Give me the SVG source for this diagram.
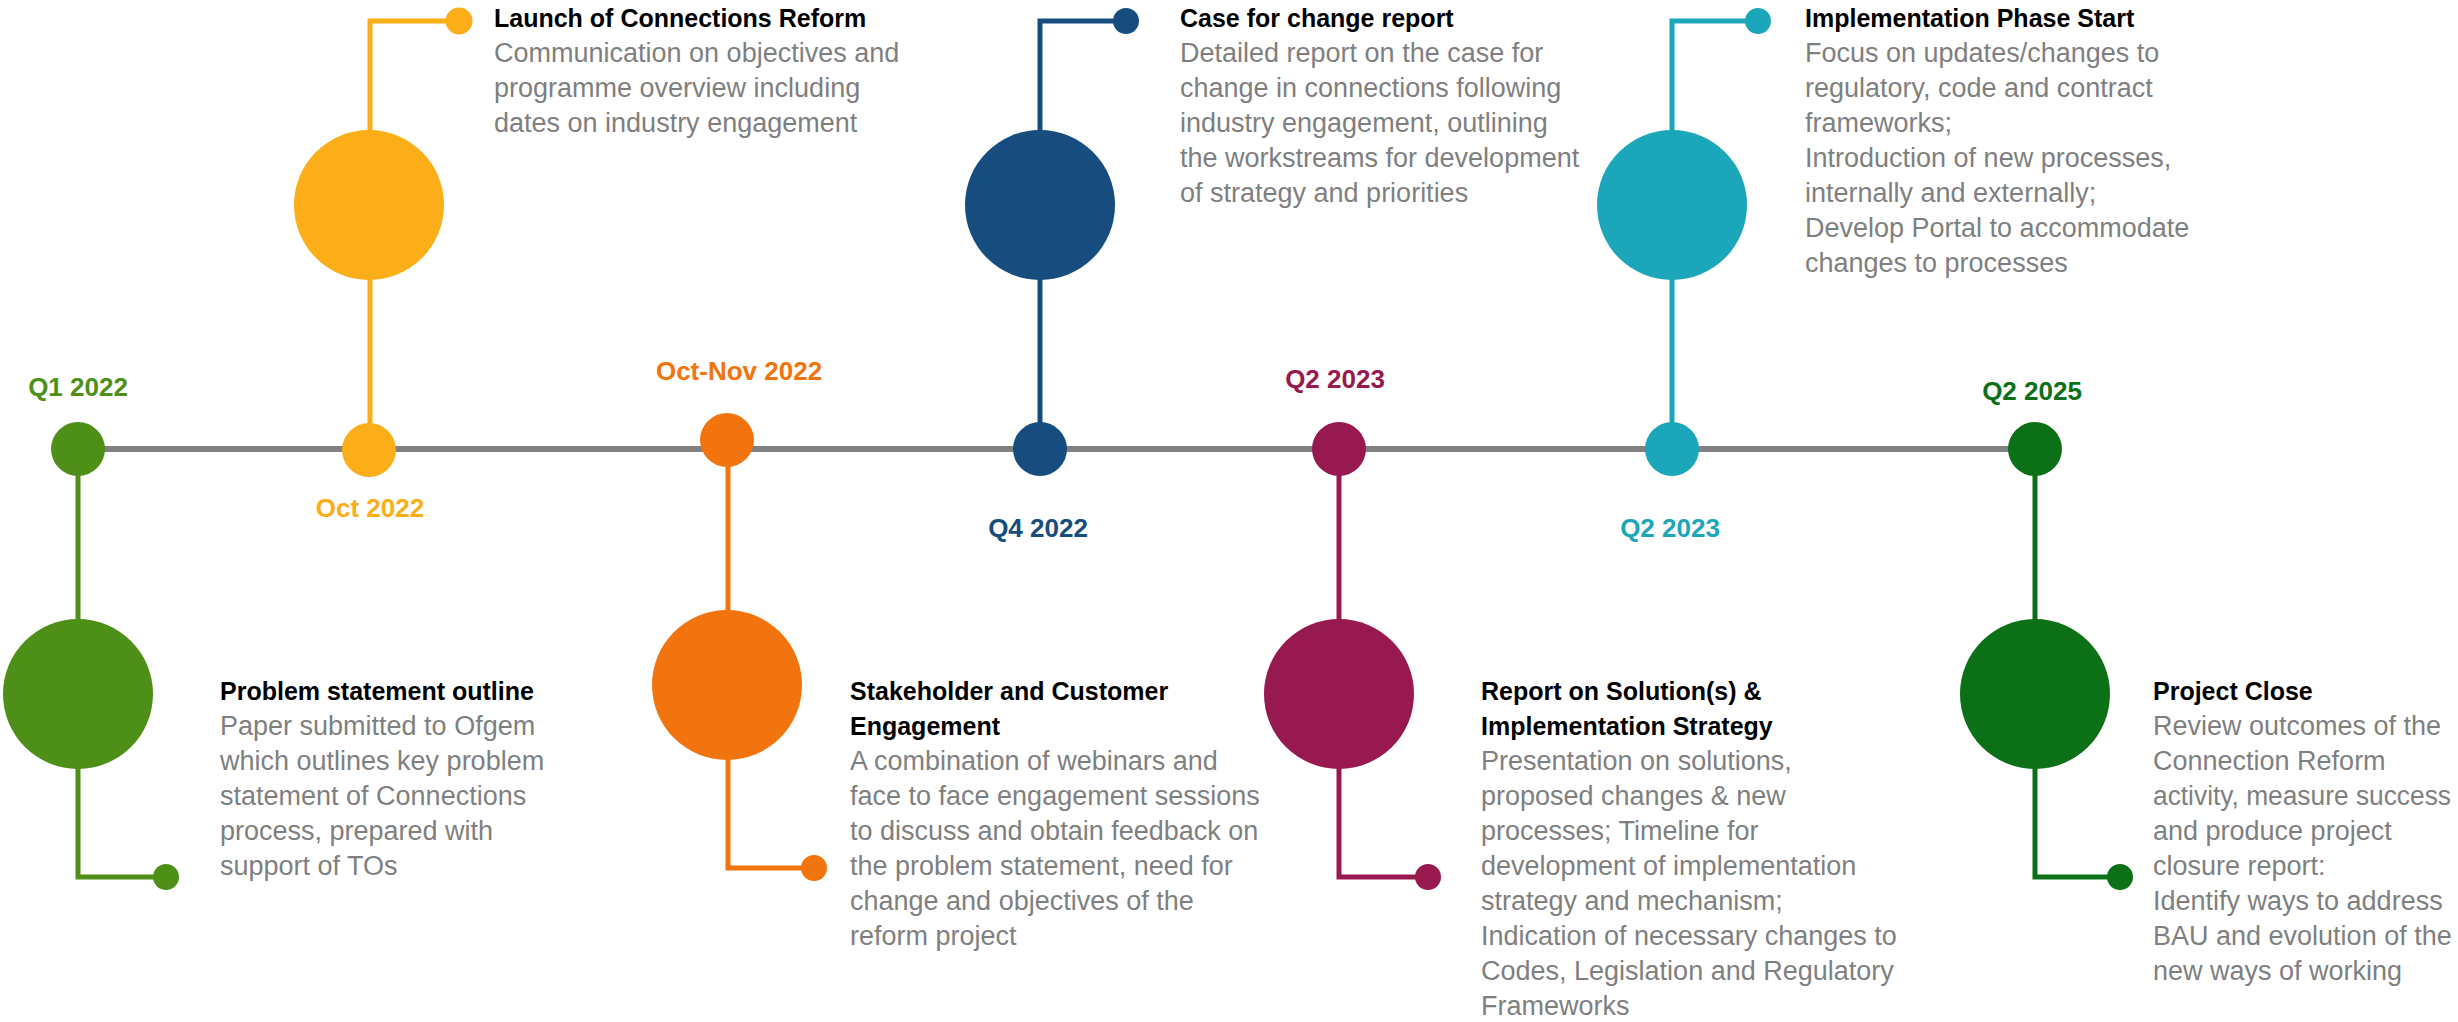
<svg xmlns="http://www.w3.org/2000/svg" width="2458" height="1022" viewBox="0 0 2458 1022">
<style>
text{font-family:"Liberation Sans",Arial,sans-serif}
.t{font-weight:bold;font-size:25px;fill:#000}
.b{font-size:27px;fill:#7F7F7F}
.d{font-weight:bold;font-size:26px;text-anchor:middle}
.c{fill:none;stroke-width:5}
</style>
<rect width="2458" height="1022" fill="#fff"/>
<g id="connectors">
<line x1="78" y1="449" x2="2035" y2="449" stroke="#808080" stroke-width="6"/>
<path class="c" stroke="#4E8F17" d="M78 449V877H166"/>
<path class="c" stroke="#FBAE17" d="M370 450V21H459"/>
<path class="c" stroke="#F2740E" d="M728 440V868H814"/>
<path class="c" stroke="#174C7E" d="M1040 449V21H1126"/>
<path class="c" stroke="#981850" d="M1339 449V877H1428"/>
<path class="c" stroke="#1CA6BA" d="M1672 449V21H1758"/>
<path class="c" stroke="#0B7016" d="M2035 449V877H2120"/>
</g>
<g id="m1" fill="#4E8F17">
<circle cx="78" cy="449" r="27"/>
<circle cx="78" cy="694" r="75"/>
<circle cx="166" cy="877" r="13"/>
<text class="d" x="78" y="396">Q1 2022</text>
<text class="t" x="220" y="700">Problem statement outline</text>
<text class="b" x="220" y="735">Paper submitted to Ofgem</text>
<text class="b" x="220" y="770">which outlines key problem</text>
<text class="b" x="220" y="805">statement of Connections</text>
<text class="b" x="220" y="840">process, prepared with</text>
<text class="b" x="220" y="875">support of TOs</text>
</g>
<g id="m2" fill="#FBAE17">
<circle cx="369" cy="450" r="27"/>
<circle cx="369" cy="205" r="75"/>
<circle cx="459" cy="21" r="13.5"/>
<text class="d" x="370" y="517">Oct 2022</text>
<text class="t" x="494" y="27">Launch of Connections Reform</text>
<text class="b" x="494" y="62">Communication on objectives and</text>
<text class="b" x="494" y="97">programme overview including</text>
<text class="b" x="494" y="132">dates on industry engagement</text>
</g>
<g id="m3" fill="#F2740E">
<circle cx="727" cy="440" r="27"/>
<circle cx="727" cy="685" r="75"/>
<circle cx="814" cy="868" r="13"/>
<text class="d" x="739" y="380">Oct-Nov 2022</text>
<text class="t" x="850" y="700">Stakeholder and Customer</text>
<text class="t" x="850" y="735">Engagement</text>
<text class="b" x="850" y="770">A combination of webinars and</text>
<text class="b" x="850" y="805">face to face engagement sessions</text>
<text class="b" x="850" y="840">to discuss and obtain feedback on</text>
<text class="b" x="850" y="875">the problem statement, need for</text>
<text class="b" x="850" y="910">change and objectives of the</text>
<text class="b" x="850" y="945">reform project</text>
</g>
<g id="m4" fill="#174C7E">
<circle cx="1040" cy="449" r="27"/>
<circle cx="1040" cy="205" r="75"/>
<circle cx="1126" cy="21" r="13"/>
<text class="d" x="1038" y="537">Q4 2022</text>
<text class="t" x="1180" y="27">Case for change report</text>
<text class="b" x="1180" y="62">Detailed report on the case for</text>
<text class="b" x="1180" y="97">change in connections following</text>
<text class="b" x="1180" y="132">industry engagement, outlining</text>
<text class="b" x="1180" y="167">the workstreams for development</text>
<text class="b" x="1180" y="202">of strategy and priorities</text>
</g>
<g id="m5" fill="#981850">
<circle cx="1339" cy="449" r="27"/>
<circle cx="1339" cy="694" r="75"/>
<circle cx="1428" cy="877" r="13"/>
<text class="d" x="1335" y="388">Q2 2023</text>
<text class="t" x="1481" y="700">Report on Solution(s) &amp;</text>
<text class="t" x="1481" y="735">Implementation Strategy</text>
<text class="b" x="1481" y="770">Presentation on solutions,</text>
<text class="b" x="1481" y="805">proposed changes &amp; new</text>
<text class="b" x="1481" y="840">processes; Timeline for</text>
<text class="b" x="1481" y="875">development of implementation</text>
<text class="b" x="1481" y="910">strategy and mechanism;</text>
<text class="b" x="1481" y="945">Indication of necessary changes to</text>
<text class="b" x="1481" y="980">Codes, Legislation and Regulatory</text>
<text class="b" x="1481" y="1015">Frameworks</text>
</g>
<g id="m6" fill="#1CA6BA">
<circle cx="1672" cy="449" r="27"/>
<circle cx="1672" cy="205" r="75"/>
<circle cx="1758" cy="21" r="13"/>
<text class="d" x="1670" y="537">Q2 2023</text>
<text class="t" x="1805" y="27">Implementation Phase Start</text>
<text class="b" x="1805" y="62">Focus on updates/changes to</text>
<text class="b" x="1805" y="97">regulatory, code and contract</text>
<text class="b" x="1805" y="132">frameworks;</text>
<text class="b" x="1805" y="167">Introduction of new processes,</text>
<text class="b" x="1805" y="202">internally and externally;</text>
<text class="b" x="1805" y="237">Develop Portal to accommodate</text>
<text class="b" x="1805" y="272">changes to processes</text>
</g>
<g id="m7" fill="#0B7016">
<circle cx="2035" cy="449" r="27"/>
<circle cx="2035" cy="694" r="75"/>
<circle cx="2120" cy="877" r="13"/>
<text class="d" x="2032" y="400">Q2 2025</text>
<text class="t" x="2153" y="700">Project Close</text>
<text class="b" x="2153" y="735">Review outcomes of the</text>
<text class="b" x="2153" y="770">Connection Reform</text>
<text class="b" x="2153" y="805" textLength="298" lengthAdjust="spacingAndGlyphs">activity, measure success</text>
<text class="b" x="2153" y="840">and produce project</text>
<text class="b" x="2153" y="875">closure report:</text>
<text class="b" x="2153" y="910">Identify ways to address</text>
<text class="b" x="2153" y="945">BAU and evolution of the</text>
<text class="b" x="2153" y="980">new ways of working</text>
</g>
</svg>
